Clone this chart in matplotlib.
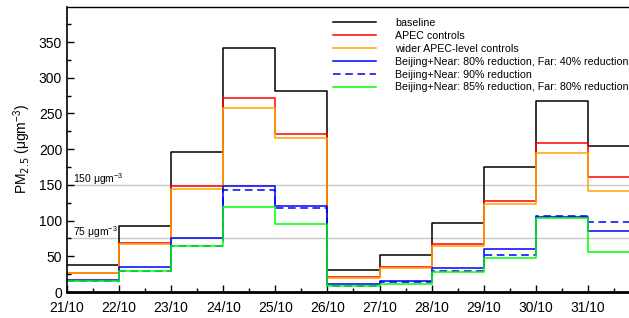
import numpy as np
import matplotlib
matplotlib.use("Agg")
import matplotlib.pyplot as plt

plt.rcParams['font.family'] = ['Liberation Sans', 'DejaVu Sans']

days = ["21/10", "22/10", "23/10", "24/10", "25/10", "26/10",
        "27/10", "28/10", "29/10", "30/10", "31/10"]

# daily mean PM2.5 per scenario
baseline = [38, 93, 196, 342, 282, 31, 52, 96, 175, 267, 205]
apec = [27, 68, 148, 272, 221, 21, 35, 67, 128, 209, 161]
wider_apec = [27, 67, 144, 257, 215, 20, 34, 65, 123, 195, 142]
bj80_far40 = [17, 35, 76, 148, 120, 11, 15, 34, 60, 105, 86]
bj90 = [16, 30, 65, 143, 117, 9, 14, 30, 52, 106, 98]
bj85_far80 = [15, 29, 64, 119, 95, 8, 11, 28, 47, 104, 56]

series = [
    (baseline, "black", "-", "baseline"),
    (apec, "red", "-", "APEC controls"),
    (wider_apec, "orange", "-", "wider APEC-level controls"),
    (bj80_far40, "blue", "-", "Beijing+Near: 80% reduction, Far: 40% reduction"),
    (bj90, "blue", "--", "Beijing+Near: 90% reduction"),
    (bj85_far80, "lime", "-", "Beijing+Near: 85% reduction, Far: 80% reduction"),
]

fig = plt.figure(figsize=(6.29, 3.18), dpi=100)
ax = fig.add_axes([67 / 629, 26 / 318, 1 - 67 / 629, (292 - 7) / 318])

x = np.arange(len(days) + 1)
ax.axhline(150, color="#c8c8c8", lw=1, zorder=1)
ax.axhline(75, color="#c8c8c8", lw=1, zorder=1)
ax.text(0.12, 153, r"150 $\mathregular{\mu gm^{-3}}$", fontsize=7.5)
ax.text(0.12, 78, r"75 $\mathregular{\mu gm^{-3}}$", fontsize=7.5)

for vals, c, ls, lab in series:
    y = vals + [vals[-1]]
    ax.step(x, y, where="post", color=c, ls=ls, lw=1.1, label=lab,
            dashes=(5, 3) if ls == "--" else (None, None))

ax.set_xlim(0, 10.79)
ax.set_ylim(0, 399)
ax.set_xticks(np.arange(len(days)))
ax.set_xticklabels(days, fontsize=10)
ax.set_xticks(np.arange(0, 11, 0.5), minor=True)
ax.set_yticks(np.arange(0, 351, 50))
ax.set_yticks(np.arange(0, 376, 25), minor=True)
ax.tick_params(axis="y", labelsize=10)
ax.tick_params(axis="x", pad=6.5)
ax.tick_params(which="both", direction="in", top=False, right=False)
ax.tick_params(which="major", length=5, width=1)
ax.tick_params(which="minor", length=3, width=1)
ax.spines["right"].set_visible(False)
ax.spines["bottom"].set_linewidth(2)
ax.spines["left"].set_linewidth(1.2)
ax.spines["top"].set_linewidth(1)
ax.set_ylabel(r"PM$_{2.5}$ ($\mathregular{\mu gm^{-3}}$)", fontsize=10, labelpad=4)

ax.legend(loc="upper left", bbox_to_anchor=(333 / 629, 1 - 18 / 318),
          bbox_transform=fig.transFigure, frameon=False, fontsize=7.7,
          handlelength=4.0, handletextpad=1.8, labelspacing=0.27,
          borderpad=0, borderaxespad=0)

fig.savefig("out.png", dpi=100)
